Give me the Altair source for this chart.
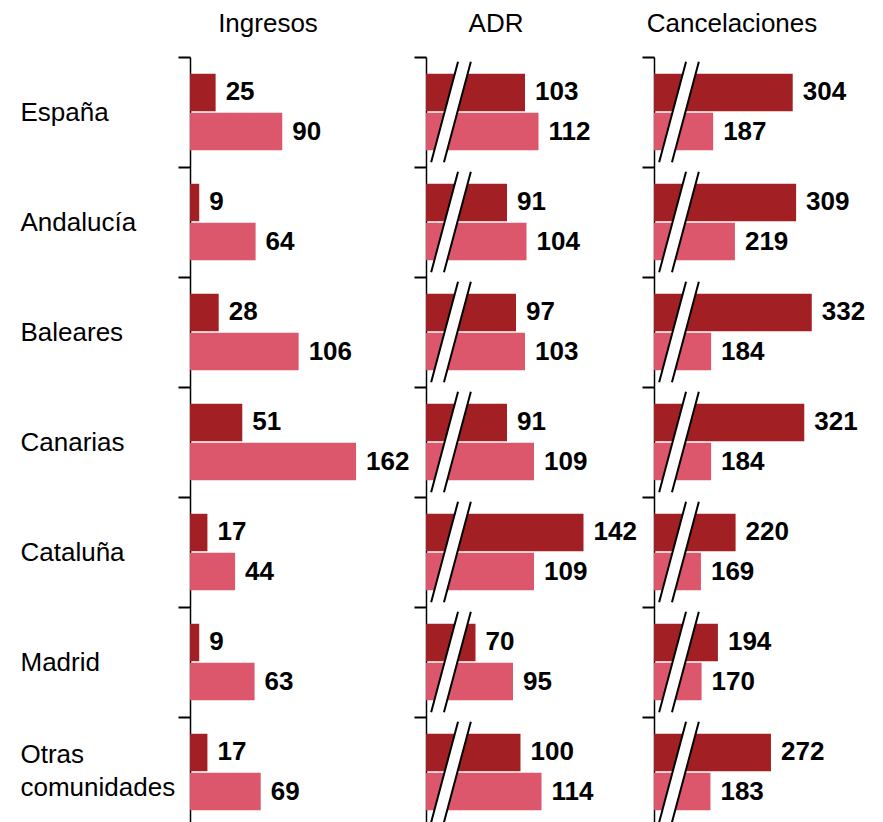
import altair as alt
import pandas as pd

categorias = ["España", "Andalucía", "Baleares", "Canarias", "Cataluña", "Madrid", "Otras comunidades"]
series = ["Serie 1", "Serie 2"]
panel_titles = ["Ingresos", "ADR", "Cancelaciones"]
ingresos_s1 = [25, 9, 28, 51, 17, 9, 17]
ingresos_s2 = [90, 64, 106, 162, 44, 63, 69]
adr_s1 = [103, 91, 97, 91, 142, 70, 100]
adr_s2 = [112, 104, 103, 109, 109, 95, 114]
cancel_s1 = [304, 309, 332, 321, 220, 194, 272]
cancel_s2 = [187, 219, 184, 184, 169, 170, 183]

FONT = "Liberation Sans"
DARK = "#a22024"
PINK = "#dc566c"
BAND = 110
H = BAND * len(categorias)

BREAK_FILL = "M 0.14 -1 L 0.395 -1 L -0.14 1 L -0.395 1 Z"
BREAK_LINES = "M 0.14 -1 L -0.395 1 M 0.395 -1 L -0.14 1"
BREAK_SIZE = 10100


def frame(s1, s2):
    rows = []
    for c, a, b in zip(categorias, s1, s2):
        rows.append({"cat": c, "serie": series[0], "valor": a})
        rows.append({"cat": c, "serie": series[1], "valor": b})
    return pd.DataFrame(rows)


def panel(title, s1, s2, dmin, dmax, width, dx, dy, labels, broken):
    df = frame(s1, s2)
    axis_kw = dict(
        title=None, labels=labels, tickBand="extent", tickSize=12, tickWidth=2,
        tickColor="black", domainColor="black", domainWidth=1.5,
    )
    if labels:
        axis_kw.update(
            labelAlign="left", labelPadding=158, labelFontSize=26, labelFont=FONT,
            labelColor="black", labelLimit=0, labelLineHeight=33, labelBaseline="middle",
            labelOffset={"condition": {"test": "datum.value == 'Otras comunidades'", "value": -18},
                         "value": 0},
            labelExpr="datum.value == 'Otras comunidades' ? ['Otras', 'comunidades'] : datum.label",
        )
    y = alt.Y("cat:N", sort=categorias,
              scale=alt.Scale(domain=categorias, paddingInner=0, paddingOuter=0),
              axis=alt.Axis(**axis_kw))
    x = alt.X("valor:Q", scale=alt.Scale(domain=[dmin, dmax], nice=False, zero=False), axis=None)
    yoff = alt.YOffset("serie:N", sort=series,
                       scale=alt.Scale(domain=series, paddingInner=0.04, paddingOuter=0.43))
    color = alt.Color("serie:N", scale=alt.Scale(domain=series, range=[DARK, PINK]), legend=None)
    base = alt.Chart(df)
    bars = base.mark_bar().encode(y=y, x=x, x2=alt.datum(dmin), yOffset=yoff, color=color)
    text = base.mark_text(
        align="left", baseline="middle", dx=10, fontSize=26, fontWeight="bold",
        font=FONT, color="black",
    ).encode(y=y, x=x, yOffset=yoff, text="valor:Q")
    layers = [bars, text]
    if broken:
        cats = alt.Chart(pd.DataFrame({"cat": categorias}))
        fill = cats.mark_point(
            shape=BREAK_FILL, size=BREAK_SIZE, filled=True, fill="white",
            strokeWidth=0, opacity=1,
        ).encode(x=alt.value(25), y=y)
        lines = cats.mark_point(
            shape=BREAK_LINES, size=BREAK_SIZE, filled=False, stroke="black",
            strokeWidth=2, opacity=1,
        ).encode(x=alt.value(25), y=y)
        layers += [fill, lines]
    return alt.layer(*layers).properties(
        width=width, height=H,
        title=alt.TitleParams(title, fontSize=26, font=FONT, fontWeight="normal",
                              color="black", dx=dx, dy=dy, offset=19, frame="group"),
    )


p1 = panel(panel_titles[0], ingresos_s1, ingresos_s2, 0, 216 / 1.025, 216, -30, 12, True, False)
p2 = panel(panel_titles[1], adr_s1, adr_s2, 37, 37 + 208 / 1.5, 208, -34, 0, False, True)
p3 = panel(panel_titles[2], cancel_s1, cancel_s2, 100, 100 + 216 / 0.68, 216, -30, 0, False, True)

chart = alt.hconcat(p1, p2, p3, spacing=20, bounds="flush").properties(
    padding={"left": 12, "top": 3, "right": 0, "bottom": 0}
).configure_view(stroke=None)

chart.save("out.html", embed_options={"renderer": "svg", "actions": False})
